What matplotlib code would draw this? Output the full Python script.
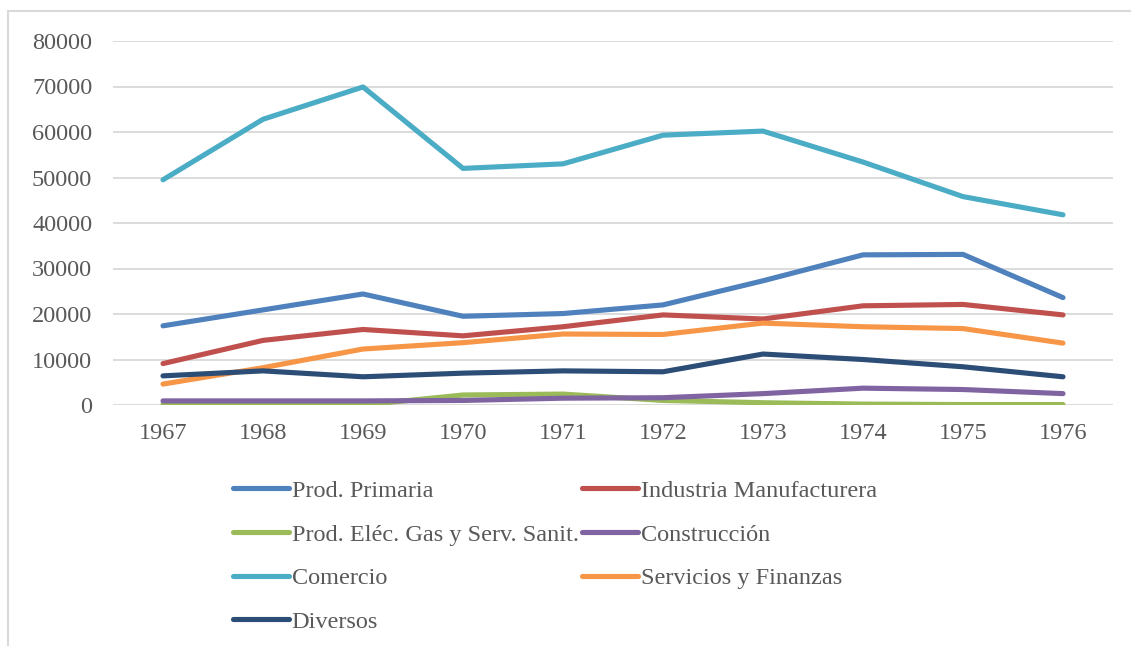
import matplotlib
matplotlib.use("Agg")
import matplotlib.pyplot as plt
from matplotlib.patches import Rectangle

plt.rcParams["font.family"] = ["Liberation Serif", "DejaVu Serif"]

years = ["1967", "1968", "1969", "1970", "1971", "1972", "1973", "1974", "1975", "1976"]

prod_primaria = [17400, 20900, 24400, 19500, 20100, 22000, 27300, 33000, 33100, 23600]
industria = [9100, 14200, 16600, 15200, 17200, 19800, 18900, 21800, 22100, 19800]
electricidad = [150, 200, 0, 2200, 2400, 1000, 500, 200, 100, 100]
construccion = [900, 900, 900, 1000, 1500, 1600, 2500, 3700, 3400, 2500]
comercio = [49500, 62800, 69900, 52000, 53000, 59300, 60200, 53400, 45800, 41800]
servicios = [4600, 8200, 12300, 13700, 15600, 15500, 18000, 17200, 16800, 13600]
diversos = [6400, 7500, 6200, 7000, 7500, 7300, 11200, 10000, 8400, 6200]

series = [
    ("Prod. Primaria", prod_primaria, "#4F81BD"),
    ("Industria Manufacturera", industria, "#C0504D"),
    ("Prod. Eléc. Gas y Serv. Sanit.", electricidad, "#9BBB59"),
    ("Construcción", construccion, "#8064A2"),
    ("Comercio", comercio, "#4BACC6"),
    ("Servicios y Finanzas", servicios, "#F79646"),
    ("Diversos", diversos, "#2C4D75"),
]

fig = plt.figure(figsize=(11.31, 6.46), dpi=100)
ax = fig.add_axes([113 / 1131, 1 - 405 / 646, 1000 / 1131, 364 / 646])

# chart border (cut off on the right and bottom like the screenshot)
fig.patches.append(Rectangle((8 / 1131, -0.05), 1.2, 1 - 11 / 646 + 0.05,
                             transform=fig.transFigure, fill=False,
                             edgecolor="#D9D9D9", linewidth=1.5))

x = list(range(len(years)))
handles = {}
for name, vals, color in series:
    line, = ax.plot(x, vals, color=color, linewidth=3.7, solid_capstyle="round",
                    solid_joinstyle="round", label=name)
    handles[name] = line

ax.set_xlim(-0.5, 9.5)
ax.set_ylim(0, 80000)
ax.set_yticks(range(0, 80001, 10000))
ax.set_xticks(x)
ax.set_xticklabels(years)
ax.grid(axis="y", color="#D9D9D9", linewidth=1.3)
ax.set_axisbelow(True)
for s in ax.spines.values():
    s.set_visible(False)
ax.tick_params(length=0, labelsize=17.5, colors="#595959")
ax.tick_params(axis="x", pad=13)
ax.tick_params(axis="y", pad=15)

order = ["Prod. Primaria", "Prod. Eléc. Gas y Serv. Sanit.", "Comercio", "Diversos",
         "Industria Manufacturera", "Construcción", "Servicios y Finanzas"]
leg = fig.legend([handles[n] for n in order], order, ncol=2, frameon=False,
                 loc="upper left", bbox_to_anchor=(211 / 1131, 1 - 458 / 646),
                 fontsize=17.5, handlelength=2.3, handletextpad=0.12,
                 columnspacing=0.15, labelspacing=0.89, labelcolor="#595959")

fig.savefig("out.png", dpi=100)
